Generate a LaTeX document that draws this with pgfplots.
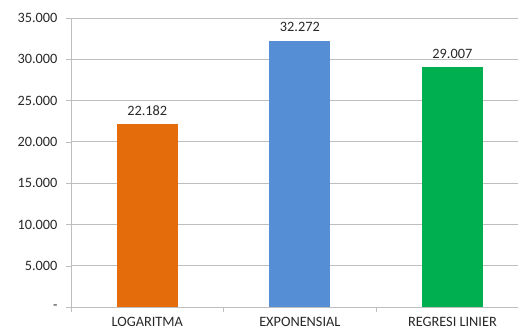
\documentclass[border=0pt]{standalone}
\usepackage{pgfplots}
\pgfplotsset{compat=1.18}
\usepackage{fontspec}
\setmainfont{Carlito}

\definecolor{barorange}{RGB}{228,108,10}
\definecolor{barblue}{RGB}{85,142,213}
\definecolor{bargreen}{RGB}{0,176,80}
\definecolor{gridgray}{RGB}{190,190,190}
\definecolor{txt}{RGB}{40,40,40}

\begin{document}
\begin{tikzpicture}[x=1pt,y=1pt]
\useasboundingbox (0,0) rectangle (518,334);
\begin{axis}[
  at={(71pt,27pt)}, anchor=south west,
  scale only axis,
  width=447pt, height=289pt,
  xmin=-0.5, xmax=2.43,
  ymin=0, ymax=35000,
  scaled y ticks=false,
  axis lines*=left,
  axis line style={draw=gridgray, -},
  ybar, bar width=61pt, bar shift=0pt,
  xtick={0,1,2},
  xticklabels={LOGARITMA, EXPONENSIAL, REGRESI LINIER},
  minor xtick={-0.5,0.5,1.5},
  ytick={0,5000,10000,15000,20000,25000,30000,35000},
  yticklabels={-, 5.000, 10.000, 15.000, 20.000, 25.000, 30.000, 35.000},
  major x tick style={draw=none},
  minor x tick style={draw=gridgray},
  y tick style={draw=gridgray},
  tick align=outside,
  major tick length=5pt, minor tick length=5pt,
  ymajorgrids,
  major grid style={draw=gridgray, line width=0.9pt},
  tick label style={font=\fontsize{14.3}{16}\selectfont, text=txt},
  yticklabel style={xshift=-5pt},
  xticklabel style={yshift=-2pt},
  nodes near coords={\pgfmathprintnumber[fixed, 1000 sep={.}, assume math mode=true]{\pgfplotspointmeta}},
  nodes near coords style={font=\fontsize{14.3}{16}\selectfont, text=txt, yshift=5pt},
  clip=false,
]
\addplot[fill=barorange, draw=none] coordinates {(0,22182)};
\addplot[fill=barblue, draw=none] coordinates {(1,32272)};
\addplot[fill=bargreen, draw=none] coordinates {(2,29007)};
\end{axis}
\end{tikzpicture}
\end{document}
